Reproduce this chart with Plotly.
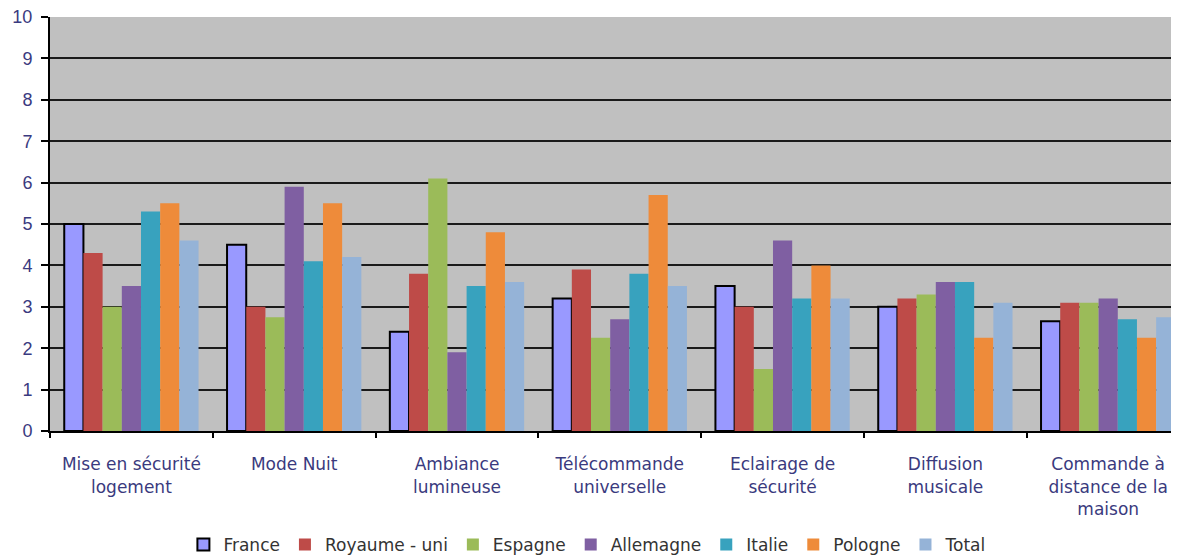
import plotly.graph_objects as go

categories = [
    "Mise en sécurité<br>logement",
    "Mode Nuit",
    "Ambiance<br>lumineuse",
    "Télécommande<br>universelle",
    "Eclairage de<br>sécurité",
    "Diffusion<br>musicale",
    "Commande à<br>distance de la<br>maison",
]

france = [5.0, 4.5, 2.4, 3.2, 3.5, 3.0, 2.65]
royaume_uni = [4.3, 3.0, 3.8, 3.9, 3.0, 3.2, 3.1]
espagne = [3.0, 2.75, 6.1, 2.25, 1.5, 3.3, 3.1]
allemagne = [3.5, 5.9, 1.9, 2.7, 4.6, 3.6, 3.2]
italie = [5.3, 4.1, 3.5, 3.8, 3.2, 3.6, 2.7]
pologne = [5.5, 5.5, 4.8, 5.7, 4.0, 2.25, 2.25]
total = [4.6, 4.2, 3.6, 3.5, 3.2, 3.1, 2.75]

series_names = ["France", "Royaume - uni", "Espagne", "Allemagne", "Italie", "Pologne", "Total"]
series_values = [france, royaume_uni, espagne, allemagne, italie, pologne, total]
colors = ["#9999FF", "#BE4B48", "#9BBB59", "#7F5FA2", "#38A2BE", "#EE8B3A", "#95B3D7"]

fig = go.Figure()
for name, vals, col in zip(series_names, series_values, colors):
    line = dict(color="black", width=2) if name == "France" else dict(width=0)
    fig.add_trace(go.Bar(x=categories, y=vals, name=name,
                         marker=dict(color=col, line=line)))

font_family = "Arial, Liberation Sans, sans-serif"
wide_family = "DejaVu Sans, Verdana, sans-serif"
fig.update_layout(
    width=1171, height=560,
    margin=dict(l=42, r=0, t=9, b=137),
    barmode="group", bargap=0.175, bargroupgap=0,
    plot_bgcolor="#C0C0C0", paper_bgcolor="white",
    font=dict(family=font_family),
    showlegend=True,
    legend=dict(orientation="h", x=0.476, xanchor="center", y=-0.275, yanchor="middle",
                font=dict(size=17, color="#333333", family=wide_family), itemwidth=30,
                tracegroupgap=0),
    xaxis=dict(
        range=[-0.5, 6.435], type="category", automargin=False,
        showline=True, linecolor="black", linewidth=2,
        ticks="outside", tickson="boundaries", ticklen=5, tickcolor="black", tickwidth=2,
        tickfont=dict(size=17, color="#3A3A7E", family=wide_family),
        ticklabelstandoff=17, ticklabeloverflow="allow",
        showgrid=False,
    ),
    yaxis=dict(
        range=[0, 10], dtick=1, automargin=False,
        showline=True, linecolor="black", linewidth=2,
        ticks="outside", ticklen=7, tickcolor="black", tickwidth=2,
        tickfont=dict(size=18, color="#3A3A80"),
        ticklabelstandoff=5, ticklabeloverflow="allow",
        showgrid=True, gridcolor="#1A1A1A", gridwidth=2,
        zeroline=False,
    ),
)

fig.write_html("out.html")
